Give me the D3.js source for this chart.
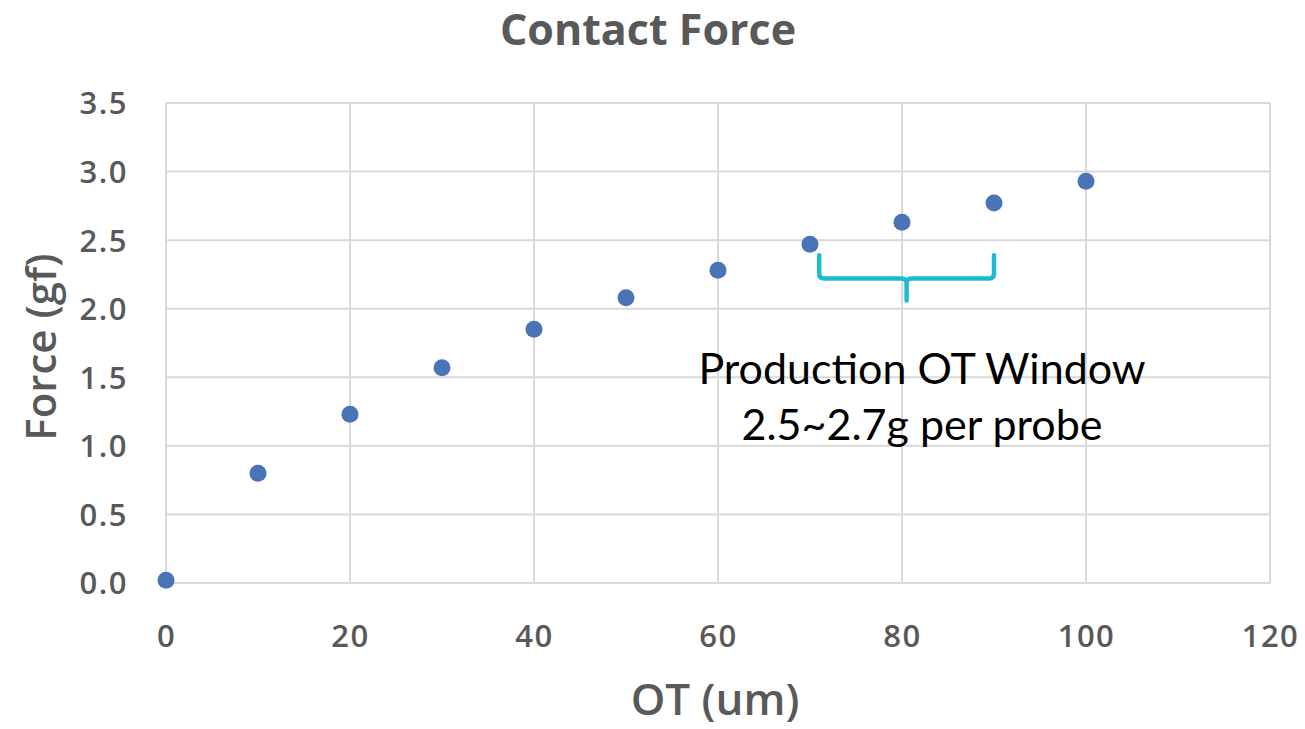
<!DOCTYPE html>
<html>
<head>
<meta charset="utf-8">
<script src="https://cdn.jsdelivr.net/npm/d3@7"></script>
<style>
  html, body { margin: 0; padding: 0; background: #fff; }
  svg { display: block; }
</style>
</head>
<body>
<svg id="chart" width="1305" height="729"></svg>
<script>
// Over-travel (um) vs. measured contact force (gf)
const otValues = [0, 10, 20, 30, 40, 50, 60, 70, 80, 90, 100];
const forceValues = [0.02, 0.80, 1.23, 1.57, 1.85, 2.08, 2.28, 2.47, 2.63, 2.77, 2.93];
const xTicks = [0, 20, 40, 60, 80, 100, 120];
const yTicks = [0, 0.5, 1.0, 1.5, 2.0, 2.5, 3.0, 3.5];

// Production window bracket, in data units
const windowRange = [71, 90];
const windowLevels = { top: 2.39, bar: 2.22, tip: 2.06 };
const windowLabels = ["Production OT Window", "2.5~2.7g per probe"];

const svg = d3.select("#chart");
const margin = { left: 166, right: 35, top: 103, bottom: 146 };
const W = 1305, H = 729;

const x = d3.scaleLinear().domain([0, 120]).range([margin.left, W - margin.right]);
const y = d3.scaleLinear().domain([0, 3.5]).range([H - margin.bottom, margin.top]);

const grey = "#595959";
const font = "'Open Sans', sans-serif";

// Gridlines
const grid = svg.append("g");
grid.selectAll("line.h").data(yTicks).join("line")
  .attr("x1", x(0)).attr("x2", x(120))
  .attr("y1", d => y(d)).attr("y2", d => y(d))
  .attr("stroke", "#d9d9d9").attr("stroke-width", 2);
grid.selectAll("line.v").data(xTicks).join("line")
  .attr("x1", d => x(d)).attr("x2", d => x(d))
  .attr("y1", y(0)).attr("y2", y(3.5))
  .attr("stroke", "#d9d9d9").attr("stroke-width", 2);

// Axes (labels only)
const xAxis = svg.append("g")
  .attr("transform", `translate(0,${y(0)})`)
  .call(d3.axisBottom(x).tickValues(xTicks).tickSize(0).tickPadding(42).tickFormat(d3.format("d")));
const yAxis = svg.append("g")
  .attr("transform", `translate(${x(0)},0)`)
  .call(d3.axisLeft(y).tickValues(yTicks).tickSize(0).tickPadding(38).tickFormat(d3.format(".1f")));
[xAxis, yAxis].forEach(a => {
  a.select(".domain").remove();
  a.selectAll("text")
    .attr("fill", grey)
    .style("font-family", font)
    .style("font-size", "31px")
    .style("font-weight", 600)
    .style("letter-spacing", "1.5px");
});
yAxis.selectAll("text").attr("dy", "0.35em");

// Data points
svg.append("g").selectAll("circle")
  .data(otValues.map((v, i) => [v, forceValues[i]]))
  .join("circle")
  .attr("cx", d => x(d[0]))
  .attr("cy", d => y(d[1]))
  .attr("r", 8.5)
  .attr("fill", "#4a74b6");

// Production window bracket
const bx0 = x(windowRange[0]), bx1 = x(windowRange[1]);
const bmid = (bx0 + bx1) / 2;
const yt = y(windowLevels.top), yb = y(windowLevels.bar), ytip = y(windowLevels.tip);
const r = 5;
const bracket = [
  `M${bx0},${yt}`,
  `L${bx0},${yb - r}`,
  `Q${bx0},${yb} ${bx0 + r},${yb}`,
  `L${bmid - r},${yb}`,
  `Q${bmid},${yb} ${bmid},${yb + r}`,
  `L${bmid},${ytip}`,
  `M${bmid},${yb + r}`,
  `Q${bmid},${yb} ${bmid + r},${yb}`,
  `L${bx1 - r},${yb}`,
  `Q${bx1},${yb} ${bx1},${yb - r}`,
  `L${bx1},${yt}`
].join(" ");
svg.append("path")
  .attr("d", bracket)
  .attr("fill", "none")
  .attr("stroke", "#1bbcd0")
  .attr("stroke-width", 4.5)
  .attr("stroke-linecap", "round")
  .attr("stroke-linejoin", "round");

// Annotation text
svg.append("g").selectAll("text")
  .data(windowLabels)
  .join("text")
  .attr("x", 922)
  .attr("y", (d, i) => 384 + i * 56)
  .attr("text-anchor", "middle")
  .attr("fill", "#000")
  .style("font-family", "Lato, sans-serif")
  .style("font-size", "43px")
  .text(d => d);

// Title
svg.append("text")
  .attr("x", 648).attr("y", 45)
  .attr("text-anchor", "middle")
  .attr("fill", grey)
  .style("font-family", font)
  .style("font-size", "43px")
  .style("font-weight", 700)
  .text("Contact Force");

// Axis titles
svg.append("text")
  .attr("x", 715).attr("y", 715)
  .attr("text-anchor", "middle")
  .attr("fill", grey)
  .style("font-family", font)
  .style("font-size", "44px")
  .style("font-weight", 600)
  .text("OT (um)");

svg.append("text")
  .attr("transform", `translate(56,${y(1.72)}) rotate(-90)`)
  .attr("text-anchor", "middle")
  .attr("fill", grey)
  .style("font-family", font)
  .style("font-size", "42px")
  .style("font-weight", 600)
  .text("Force (gf)");
</script>
</body>
</html>
